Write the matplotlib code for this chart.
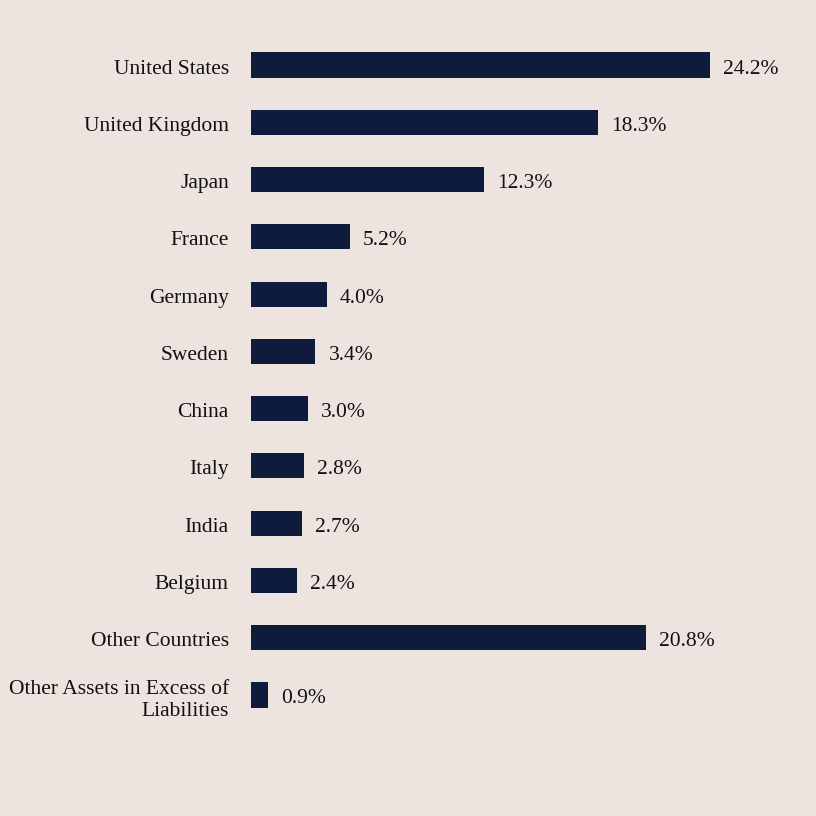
import matplotlib
matplotlib.use("Agg")
import matplotlib.pyplot as plt
import matplotlib.transforms as mtransforms

categories = ["United States", "United Kingdom", "Japan", "France", "Germany",
              "Sweden", "China", "Italy", "India", "Belgium", "Other Countries",
              "Other Assets in Excess of\nLiabilities"]
values = [24.2, 18.3, 12.3, 5.2, 4.0, 3.4, 3.0, 2.8, 2.7, 2.4, 20.8, 0.9]
value_labels = ["24.2%", "18.3%", "12.3%", "5.2%", "4.0%", "3.4%", "3.0%",
                "2.8%", "2.7%", "2.4%", "20.8%", "0.9%"]

BG = "#ede4df"
BAR = "#0e1b3d"
plt.rcParams['font.family'] = ['Liberation Serif', 'DejaVu Serif']
FS = 15.5

fig = plt.figure(figsize=(8.16, 8.16), dpi=100, facecolor=BG)
W = 816
left = 251 / W
px_per = 18.97
xmax = 28.0
ax = fig.add_axes([left, 1 - 723.6 / W, xmax * px_per / W, (723.6 - 36.4) / W])
ax.set_facecolor(BG)

ypos = list(range(len(categories)))
ax.barh(ypos, values, height=0.44, color=BAR)
ax.set_xlim(0, xmax)
ax.set_ylim(len(categories) - 0.5, -0.5)
ax.set_yticks(ypos)
ax.set_yticklabels(categories, fontsize=FS, linespacing=1.25, color='#111111')
ax.tick_params(axis='y', length=0, pad=16)
shift = mtransforms.ScaledTranslation(0, -1.5 / 100, fig.dpi_scale_trans)
for t in ax.get_yticklabels():
    t.set_verticalalignment('center_baseline')
    t.set_transform(t.get_transform() + shift)
ax.set_xticks([])
for s in ax.spines.values():
    s.set_visible(False)

for y, v, lab in zip(ypos, values, value_labels):
    ax.annotate(lab, (v, y), xytext=(13, -1.5), textcoords='offset pixels',
                va='center_baseline', ha='left', fontsize=FS, color='#111111')

fig.savefig("out.png", dpi=100, facecolor=BG)
